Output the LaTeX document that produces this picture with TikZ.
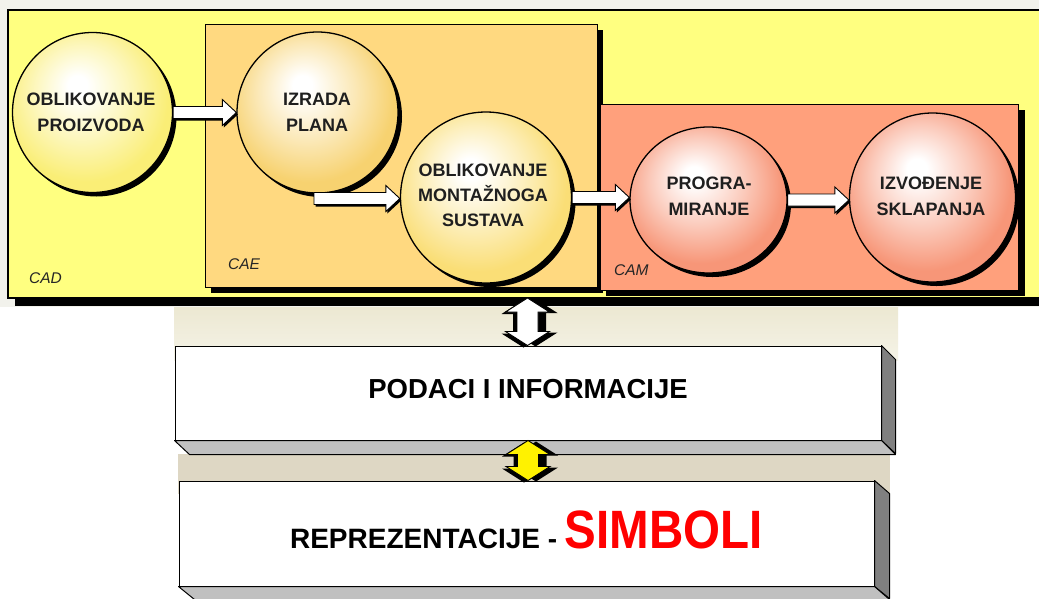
\documentclass[tikz,border=0pt]{standalone}
\usepackage{fontspec}
\setmainfont{Liberation Sans}
\usepackage{graphicx}
\usetikzlibrary{shapes.geometric,shadows,calc}

\definecolor{cadY}{RGB}{255,255,128}
\definecolor{caeO}{RGB}{255,217,128}
\definecolor{camS}{RGB}{255,160,124}
\definecolor{bgstrip}{RGB}{242,242,236}
\definecolor{bandAtop}{RGB}{236,232,210}
\definecolor{bandAbot}{RGB}{245,243,231}
\definecolor{bandB}{RGB}{222,215,196}
\definecolor{sidegray}{RGB}{128,128,128}
\definecolor{botgray}{RGB}{192,192,192}
\definecolor{ballYa}{RGB}{250,238,118}
\definecolor{ballYb}{RGB}{247,210,112}
\definecolor{ballYc}{RGB}{250,222,118}
\definecolor{ballSa}{RGB}{247,150,120}
\definecolor{simred}{RGB}{255,0,0}

\pgfdeclareradialshading{shYa}{\pgfqpoint{-5bp}{9bp}}{color(0bp)=(white); color(3bp)=(white); color(15bp)=(ballYa!50!white); color(26bp)=(ballYa); color(50bp)=(ballYa)}
\pgfdeclareradialshading{shYb}{\pgfqpoint{-5bp}{9bp}}{color(0bp)=(white); color(3bp)=(white); color(15bp)=(ballYb!50!white); color(26bp)=(ballYb); color(50bp)=(ballYb)}
\pgfdeclareradialshading{shYc}{\pgfqpoint{-5bp}{9bp}}{color(0bp)=(white); color(3bp)=(white); color(15bp)=(ballYc!50!white); color(26bp)=(ballYc); color(50bp)=(ballYc)}
\pgfdeclareradialshading{shSa}{\pgfqpoint{-5bp}{9bp}}{color(0bp)=(white); color(3bp)=(white); color(15bp)=(ballSa!50!white); color(26bp)=(ballSa); color(50bp)=(ballSa)}

\tikzset{
  ball/.style={circle, draw=black, line width=1.3pt, inner sep=0pt,
    drop shadow={shadow xshift=4pt, shadow yshift=-4pt, fill=black, opacity=1}},
  oval/.style={ellipse, draw=black, line width=1.3pt, inner sep=0pt,
    drop shadow={shadow xshift=4pt, shadow yshift=-4pt, fill=black, opacity=1}},
  balltext/.style={align=center, inner sep=0pt, text=black!88,
    font=\bfseries\fontsize{18pt}{26pt}\selectfont},
  arealabel/.style={anchor=base west, inner sep=0pt, text=black!85,
    font=\itshape\fontsize{15.5pt}{18pt}\selectfont},
  frontbox/.style={draw=black, line width=1pt, fill=white, inner sep=0pt},
  sideface/.style={draw=black, line width=1pt, fill=sidegray, line join=round},
  bottomface/.style={draw=black, line width=1pt, fill=botgray, line join=round},
  arrbody/.style={draw=black, line width=0.9pt, line join=miter},
  arrshadow/.style={fill=black},
}

\newcommand\blockarr[2]{%
  \fill[arrshadow] let \p1=(#1), \p2=(#2) in
    (\x1+1.5pt,\y1+4pt) -- (\x2-12.5pt,\y1+4pt) -- (\x2-12.5pt,\y1+11pt) --
    (\x2+1.5pt,\y1-2pt) -- (\x2-12.5pt,\y1-15pt) -- (\x2-12.5pt,\y1-8pt) --
    (\x1+1.5pt,\y1-8pt) -- cycle;
  \draw[arrbody, fill=white] let \p1=(#1), \p2=(#2) in
    (\x1,\y1+6pt) -- (\x2-14pt,\y1+6pt) -- (\x2-14pt,\y1+13pt) --
    (\x2,\y1) -- (\x2-14pt,\y1-13pt) -- (\x2-14pt,\y1-6pt) --
    (\x1,\y1-6pt) -- cycle;
}

\newcommand\dblarr[3]{%
  \fill[arrshadow] let \p1=(#1), \p2=(#2) in
    (\x1+8pt,\y1-1pt) -- (\x1+30pt,\y1-15pt) -- (\x1+18.5pt,\y1-15pt) --
    (\x1+18.5pt,\y2+13pt) -- (\x1+30pt,\y2+13pt) -- (\x1+8pt,\y2-1pt) --
    (\x1-14pt,\y2+13pt) -- (\x1-2.5pt,\y2+13pt) -- (\x1-2.5pt,\y1-15pt) --
    (\x1-14pt,\y1-15pt) -- cycle;
  \fill[arrshadow] let \p1=(#1), \p2=(#2) in
    (\x1-4pt,\y1-2pt) -- (\x1+18pt,\y1-16pt) -- (\x1+6.5pt,\y1-16pt) --
    (\x1+6.5pt,\y2+12pt) -- (\x1+18pt,\y2+12pt) -- (\x1-4pt,\y2-2pt) --
    (\x1-26pt,\y2+12pt) -- (\x1-14.5pt,\y2+12pt) -- (\x1-14.5pt,\y1-16pt) --
    (\x1-26pt,\y1-16pt) -- cycle;
  \draw[arrbody, fill=#3] let \p1=(#1), \p2=(#2) in
    (\x1,\y1) -- (\x1+22pt,\y1-14pt) -- (\x1+10.5pt,\y1-14pt) --
    (\x1+10.5pt,\y2+14pt) -- (\x1+22pt,\y2+14pt) -- (\x1,\y2) --
    (\x1-22pt,\y2+14pt) -- (\x1-10.5pt,\y2+14pt) -- (\x1-10.5pt,\y1-14pt) --
    (\x1-22pt,\y1-14pt) -- cycle;
}

\begin{document}
\begin{tikzpicture}[x=1pt,y=-1pt]
\useasboundingbox (0,0) rectangle (1039,598);
\clip (0,0) rectangle (1039,598);
\fill[white] (0,0) rectangle (1039,598);
\fill[bgstrip] (0,0) rectangle (1039,307);

% CAD area
\fill[black] (15,18) rectangle (1050,306);
\draw[fill=cadY, line width=1.2pt] (8,10) rectangle (1050,298);
% CAE area
\fill[black] (211,30) rectangle (603,293);
\draw[fill=caeO, line width=1pt] (205,24) rectangle (597,287);
% CAM area
\fill[black] (606,110) rectangle (1025,296);
\draw[fill=camS, line width=1pt] (600,104) rectangle (1018,290);

\node[arealabel] (lcad) at (29,283) {CAD};
\node[arealabel] (lcae) at (228,269) {CAE};
\node[arealabel] (lcam) at (614,275) {CAM};

% process circles
\node[ball, shading=shYa, minimum size=160pt] (c1) at (92.5,112.5) {};
\node[ball, shading=shYb, minimum size=161pt] (c2) at (317.5,112.5) {};
\node[ball, shading=shYc, minimum size=171pt] (c3) at (486,197.5) {};
\node[oval, shading=shSa, minimum width=157pt, minimum height=146pt] (c4) at (708.5,200) {};
\node[oval, shading=shSa, minimum width=166pt, minimum height=169pt] (c5) at (932.5,197.5) {};

\node[balltext] (t1) at (91,112) {OBLIKOVANJE\\PROIZVODA};
\node[balltext] (t2) at (317,112) {IZRADA\\PLANA};
\node[balltext, font=\bfseries\fontsize{18pt}{25pt}\selectfont] (t3) at (483,195.5) {OBLIKOVANJE\\MONTAŽNOGA\\SUSTAVA};
\node[balltext] (t4) at (709,196) {PROGRA-\\MIRANJE};
\node[balltext] (t5) at (931,196) {IZVOĐENJE\\SKLAPANJA};

% flow arrows
\coordinate (a2s) at (314,198.5);
\blockarr{c1.east}{c2.west}
\blockarr{a2s}{c3.west}
\blockarr{c3.east}{c4.west}
\blockarr{c4.east}{c5.west}

% lower layers
\shade[top color=bandAtop, bottom color=bandAbot] (174,307) rectangle (898,360);
\fill[bandB] (178,454) rectangle (890,494);

\node[frontbox, minimum width=706pt, minimum height=94pt, text height=30pt, text depth=20pt,
  font=\bfseries\fontsize{27.5pt}{30pt}\selectfont] (pod) at (528,393) {PODACI I INFORMACIJE};
\draw[sideface] (pod.north east) -- ++(14,14) -- ++(0,94) -- (pod.south east) -- cycle;
\draw[bottomface] (pod.south west) -- (pod.south east) -- ++(14,14) -- ++(-706,0) -- cycle;

\node[frontbox, minimum width=695pt, minimum height=105pt, text height=67pt, text depth=38pt,
  font=\bfseries\fontsize{28pt}{30pt}\selectfont] (rep) at (526.5,533.5)
  {REPREZENTACIJE - {\color{simred}\fontsize{54pt}{60pt}\selectfont\scalebox{0.88}[1]{SIMBOLI}}};
\draw[sideface] (rep.north east) -- ++(15,13) -- ++(0,105) -- (rep.south east) -- cycle;
\draw[bottomface] (rep.south west) -- (rep.south east) -- ++(15,13) -- ++(-695,0) -- cycle;

% exchange arrows
\coordinate (cadbot) at (527.5,298);
\dblarr{cadbot}{pod.north}{white}
\dblarr{pod.south}{rep.north}{yellow}
\end{tikzpicture}
\end{document}
